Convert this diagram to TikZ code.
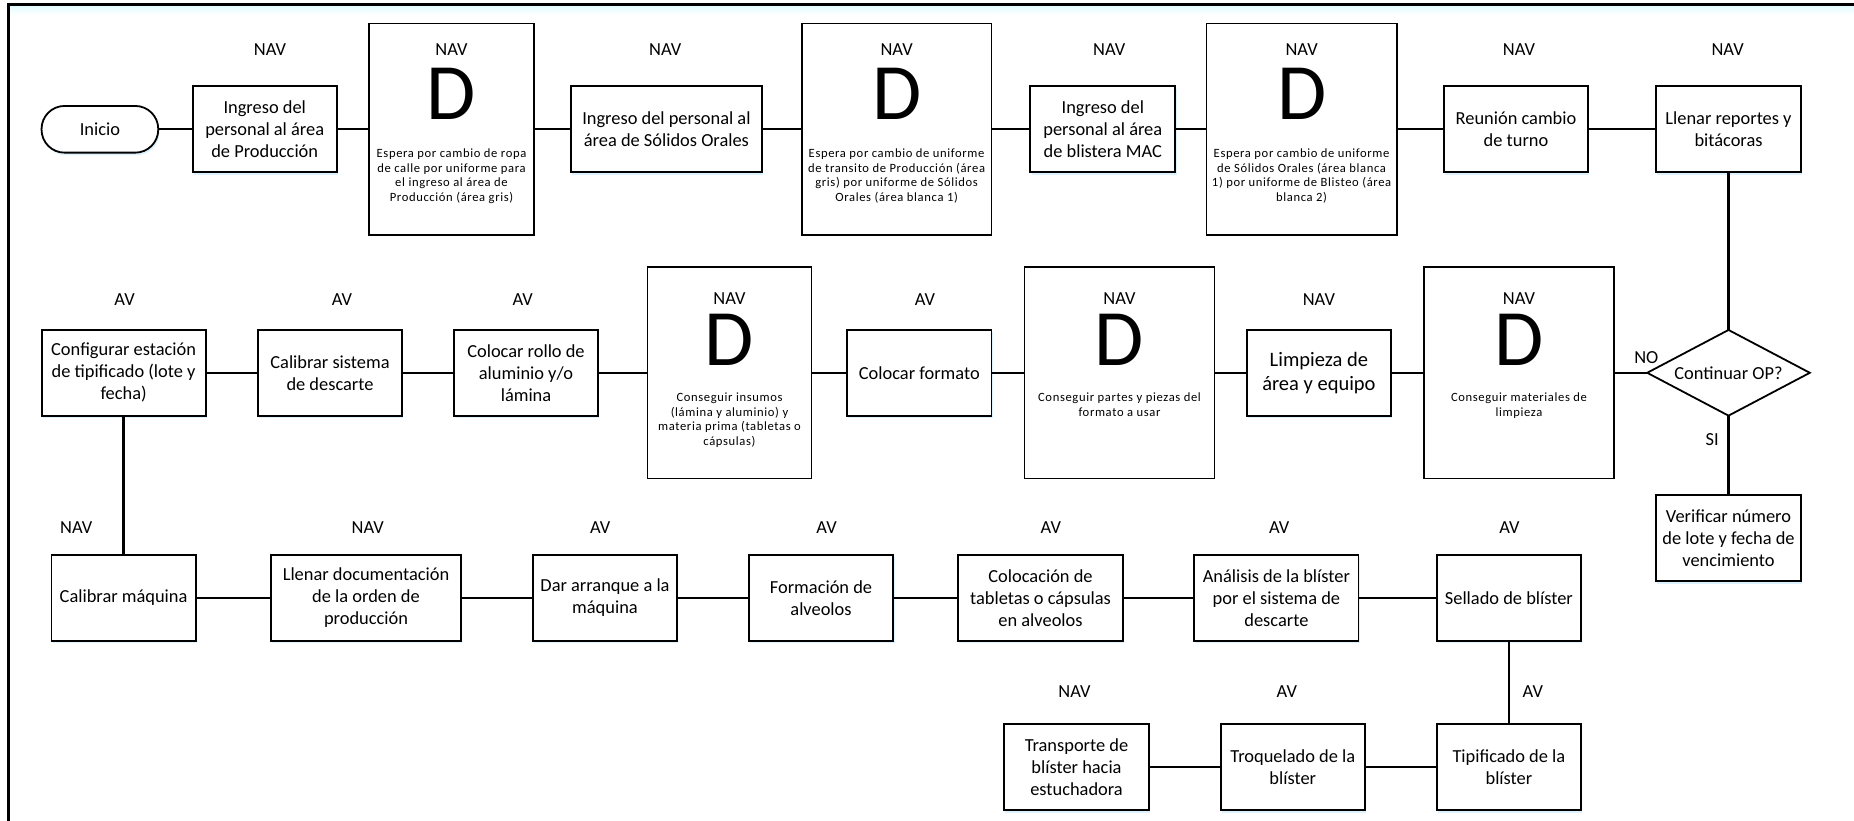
\documentclass[tikz,border=0pt]{standalone}
\usepackage{fontspec}
\setmainfont{Carlito}
\newfontfamily\dfont[LetterSpace=5]{Carlito}
\usetikzlibrary{shapes.geometric,shadows}
\begin{document}
\begin{tikzpicture}[x=1pt,y=-1pt,
  every node/.style={inner sep=0pt,outer sep=0pt},
  myshadow/.style={drop shadow={shadow xshift=1.2pt,shadow yshift=-2.5pt,fill=blue!35!cyan!30,opacity=0.45}},
  box/.style={draw,line width=1.8pt,fill=white,align=center,minimum width=#1pt,minimum height=86pt,
    font=\fontsize{18.4}{22}\selectfont,myshadow},
  dbox/.style={draw,line width=1.6pt,fill=white,minimum width=#1pt,minimum height=211.5pt},
  lbl/.style={font=\fontsize{18.4}{22}\selectfont},
  bigd/.style={font=\fontsize{80}{80}\selectfont},
  dtxt/.style={anchor=north,align=center,font=\dfont\fontsize{12.6}{14.8}\selectfont},
  conn/.style={line width=2.4pt}
]
\useasboundingbox (0,0) rectangle (1854,821);
% frame
\shade[top color=blue!12!cyan!10,bottom color=white] (10,6.5) rectangle (1854,15);
\draw[line width=3pt] (8.7,821) -- (8.7,5) -- (1854,5);

% ---------- Row 1 ----------
\node[draw,line width=1.8pt,fill=white,rounded corners=23pt,minimum width=116.7pt,minimum height=46.7pt,
  font=\fontsize{18.4}{22}\selectfont,myshadow] (inicio) at (99.9,129.3) {Inicio};
\node[box=144] (b1) at (264.7,129.3) {Ingreso del\\personal al área\\de Producción};
\node[dbox=165.3] (d1) at (451.5,129.3) {};
\node[box=191.5] (b2) at (666.4,129.3) {Ingreso del personal al\\área de Sólidos Orales};
\node[dbox=189.7] (d2) at (896.6,129.3) {};
\node[box=145] (b3) at (1102.8,129.3) {Ingreso del\\personal al área\\de blistera MAC};
\node[dbox=190.6] (d3) at (1301.6,129.3) {};
\node[box=144] (b4) at (1516,129.3) {Reunión cambio\\de turno};
\node[box=144.7] (b5) at (1728.5,129.3) {Llenar reportes y\\bitácoras};

\node[lbl] (l1) at (270,49.3) {NAV};
\node[lbl] (d1n) at (451.5,49.3) {NAV};
\node[bigd] (d1d) at (451.5,94.3) {D};
\node[dtxt] (d1t) at (451.5,148.6) {Espera por cambio de ropa\\de calle por uniforme para\\el ingreso al área de\\Producción (área gris)};
\node[lbl] (l2) at (665.2,49.3) {NAV};
\node[lbl] (d2n) at (896.6,49.3) {NAV};
\node[bigd] (d2d) at (896.6,94.3) {D};
\node[dtxt] (d2t) at (896.6,148.6) {Espera por cambio de uniforme\\de transito de Producción (área\\gris) por uniforme de Sólidos\\Orales (área blanca 1)};
\node[lbl] (l3) at (1109.3,49.3) {NAV};
\node[lbl] (d3n) at (1301.6,49.3) {NAV};
\node[bigd] (d3d) at (1301.6,94.3) {D};
\node[dtxt] (d3t) at (1301.6,148.6) {Espera por cambio de uniforme\\de Sólidos Orales (área blanca\\1) por uniforme de Blisteo (área\\blanca 2)};
\node[lbl] (l4) at (1519,49.3) {NAV};
\node[lbl] (l5) at (1727.6,49.3) {NAV};

% ---------- Row 2 ----------
\node[draw,line width=1.8pt,fill=white,diamond,aspect=1.9,minimum width=162.6pt,minimum height=85.7pt,
  font=\fontsize{18.4}{22}\selectfont] (dec) at (1728.5,372.8) {Continuar OP?};
\node[dbox=190.2] (d6) at (1519,372.8) {};
\node[box=144.3,font=\fontsize{20.5}{24.3}\selectfont] (limp) at (1318.9,372.8) {Limpieza de\\área y equipo};
\node[dbox=190.3] (d5) at (1119.5,372.8) {};
\node[box=144.3] (formato) at (919.3,372.8) {Colocar formato};
\node[dbox=164.1] (d4) at (729.5,372.8) {};
\node[box=144.3] (rollo) at (526,372.8) {Colocar rollo de\\aluminio y/o\\lámina};
\node[box=144.3] (sistema) at (330,372.8) {Calibrar sistema\\de descarte};
\node[box=164] (config) at (123.6,372.8) {Configurar estación\\de tipificado (lote y\\fecha)};

\node[lbl] (l6) at (124.6,300) {AV};
\node[lbl] (l7) at (342,300) {AV};
\node[lbl] (l8) at (522.7,300) {AV};
\node[lbl] (d4n) at (729.5,298.5) {NAV};
\node[bigd] (d4d) at (729.5,340) {D};
\node[dtxt] (d4t) at (729.5,392.6) {Conseguir insumos\\(lámina y aluminio) y\\materia prima (tabletas o\\cápsulas)};
\node[lbl] (l9) at (925,300) {AV};
\node[lbl] (d5n) at (1119.5,298.5) {NAV};
\node[bigd] (d5d) at (1119.5,340) {D};
\node[dtxt] (d5t) at (1119.5,392.6) {Conseguir partes y piezas del\\formato a usar};
\node[lbl] (l10) at (1318.9,300) {NAV};
\node[lbl] (d6n) at (1519,298.5) {NAV};
\node[bigd] (d6d) at (1519,340) {D};
\node[dtxt] (d6t) at (1519,392.6) {Conseguir materiales de\\limpieza};
\node[lbl] (no) at (1646.3,357.3) {NO};
\node[lbl] (si) at (1712.2,439.3) {SI};

\node[box=144.7] (verif) at (1728.5,538) {Verificar número\\de lote y fecha de\\vencimiento};

% ---------- Row 3 ----------
\node[box=144.3] (maq) at (123.6,597.7) {Calibrar máquina};
\node[box=190.2] (doc) at (366,597.7) {Llenar documentación\\de la orden de\\producción};
\node[box=144.1] (arr) at (605,597.7) {Dar arranque a la\\máquina};
\node[box=144.7] (form) at (821,597.7) {Formación de\\alveolos};
\node[box=164.5] (coloc) at (1040.5,597.7) {Colocación de\\tabletas o cápsulas\\en alveolos};
\node[box=164.2] (anal) at (1276.4,597.7) {Análisis de la blíster\\por el sistema de\\descarte};
\node[box=143.9] (sell) at (1508.9,597.7) {Sellado de blíster};

\node[lbl] (l11) at (76.3,527.3) {NAV};
\node[lbl] (l12) at (367.7,527.3) {NAV};
\node[lbl] (l13) at (600.2,527.3) {AV};
\node[lbl] (l14) at (826.6,527.3) {AV};
\node[lbl] (l15) at (1050.8,527.3) {AV};
\node[lbl] (l16) at (1279.2,527.3) {AV};
\node[lbl] (l17) at (1509.5,527.3) {AV};

% ---------- Row 4 ----------
\node[box=143.9] (tipi) at (1508.9,767) {Tipificado de la\\blíster};
\node[box=144] (troq) at (1292.8,767) {Troquelado de la\\blíster};
\node[box=144.7] (trans) at (1076.5,767) {Transporte de\\blíster hacia\\estuchadora};

\node[lbl] (l18) at (1074.5,691.7) {NAV};
\node[lbl] (l19) at (1286.8,691.7) {AV};
\node[lbl] (l20) at (1532.8,691.7) {AV};

% ---------- connectors ----------
\draw[conn] (inicio) -- (b1);
\draw[conn] (b1) -- (d1);
\draw[conn] (d1) -- (b2);
\draw[conn] (b2) -- (d2);
\draw[conn] (d2) -- (b3);
\draw[conn] (b3) -- (d3);
\draw[conn] (d3) -- (b4);
\draw[conn] (b4) -- (b5);
\draw[conn] (b5) -- (dec);
\draw[conn] (dec) -- (d6);
\draw[conn] (d6) -- (limp);
\draw[conn] (limp) -- (d5);
\draw[conn] (d5) -- (formato);
\draw[conn] (formato) -- (d4);
\draw[conn] (d4) -- (rollo);
\draw[conn] (rollo) -- (sistema);
\draw[conn] (sistema) -- (config);
\draw[conn] (config) -- (maq);
\draw[conn] (dec) -- (verif);
\draw[conn] (maq) -- (doc);
\draw[conn] (doc) -- (arr);
\draw[conn] (arr) -- (form);
\draw[conn] (form) -- (coloc);
\draw[conn] (coloc) -- (anal);
\draw[conn] (anal) -- (sell);
\draw[conn] (sell) -- (tipi);
\draw[conn] (tipi) -- (troq);
\draw[conn] (troq) -- (trans);
\end{tikzpicture}
\end{document}
